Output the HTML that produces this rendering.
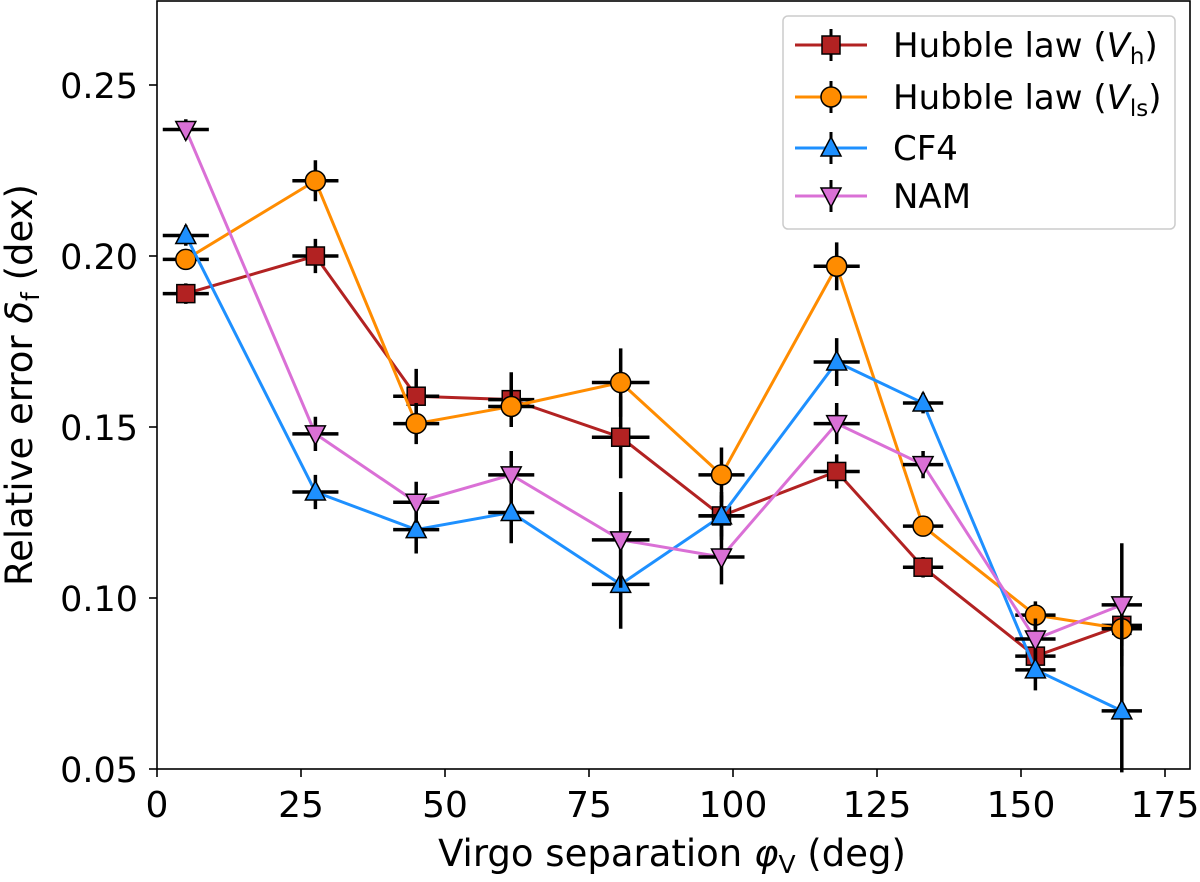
<!DOCTYPE html>
<html><head><meta charset="utf-8"><style>
body{margin:0;background:#fff;}
svg text{font-family:"DejaVu Sans","Liberation Sans",sans-serif;fill:#000;}
</style></head><body>
<svg id="chart" width="1200" height="877" xmlns="http://www.w3.org/2000/svg">
<g id="marks"></g>
<g id="axes"></g>
<g id="legend"></g>
</svg>
<script>
const xVals=[5,27.5,45,61.5,80.5,98,118,133,152.5,167.5];
const xErr=[4,4,4,4,5,4,4,3.5,3.5,3.5];
const hVh=[0.189,0.200,0.159,0.158,0.147,0.124,0.137,0.109,0.083,0.092];
const hVhErr=[0.003,0.005,0.008,0.008,0.012,0.006,0.005,0.003,0.004,0.006];
const hVls=[0.199,0.222,0.151,0.156,0.163,0.136,0.197,0.121,0.095,0.091];
const hVlsErr=[0.003,0.006,0.006,0.006,0.010,0.008,0.007,0.003,0.004,0.008];
const cf4=[0.206,0.131,0.120,0.125,0.104,0.124,0.169,0.157,0.079,0.067];
const cf4Err=[0.003,0.005,0.007,0.009,0.013,0.007,0.007,0.003,0.006,0.018];
const nam=[0.237,0.148,0.128,0.136,0.117,0.112,0.151,0.139,0.088,0.098];
const namErr=[0.003,0.005,0.006,0.007,0.014,0.008,0.006,0.004,0.006,0.018];
const xTicks=[0,25,50,75,100,125,150,175];
const yTicks=[0.05,0.10,0.15,0.20,0.25];
const yTickLabels=["0.05","0.10","0.15","0.20","0.25"];

const L=157,R=1190,T=1,B=769;
const X=v=>L+v*5.76;
const Y=v=>B-(v-0.05)*3420;
const NS="http://www.w3.org/2000/svg";
function mk(tag,attrs,parent){const e=document.createElementNS(NS,tag);for(const k in attrs)e.setAttribute(k,attrs[k]);parent.appendChild(e);return e;}
const marks=document.getElementById('marks'),axes=document.getElementById('axes'),legend=document.getElementById('legend');

function marker(shape,cx,cy,color,parent){
  let e;
  if(shape==='s') e=mk('rect',{x:cx-9,y:cy-9,width:18,height:18,fill:color,stroke:'#000','stroke-width':1.5},parent);
  else if(shape==='o') e=mk('circle',{cx:cx,cy:cy,r:10,fill:color,stroke:'#000','stroke-width':1.5},parent);
  else if(shape==='^') e=mk('polygon',{points:`${cx},${cy-11} ${cx+10},${cy+8} ${cx-10},${cy+8}`,fill:color,stroke:'#000','stroke-width':1.5},parent);
  else e=mk('polygon',{points:`${cx},${cy+11} ${cx+10},${cy-8} ${cx-10},${cy-8}`,fill:color,stroke:'#000','stroke-width':1.5},parent);
  return e;
}
const series=[
 {name:'hubble-vh',vals:hVh,err:hVhErr,color:'#b22222',shape:'s'},
 {name:'hubble-vls',vals:hVls,err:hVlsErr,color:'#ff8c00',shape:'o'},
 {name:'cf4',vals:cf4,err:cf4Err,color:'#1e90ff',shape:'^'},
 {name:'nam',vals:nam,err:namErr,color:'#da70d6',shape:'v'}
];
series.forEach(s=>{
  const g=mk('g',{},marks);
  
  
  const pts=s.vals.map((v,i)=>X(xVals[i])+','+Y(v)).join(' ');
  const line=mk('polyline',{points:pts,fill:'none',stroke:s.color,'stroke-width':3},g);
  
  
  s.vals.forEach((v,i)=>{
    const cx=X(xVals[i]),cy=Y(v);
    const eb=mk('path',{d:`M${X(xVals[i]-xErr[i])},${cy}H${X(xVals[i]+xErr[i])}M${cx},${Y(v-s.err[i])}V${Y(v+s.err[i])}`,stroke:'#000','stroke-width':3.5,fill:'none'},g);
    
    
    const m=marker(s.shape,cx,cy,s.color,g);
    
    
  });
});
const frame=mk('rect',{x:L,y:T,width:R-L,height:B-T,fill:'none',stroke:'#000','stroke-width':1.6},axes);


xTicks.forEach(t=>{
  mk('line',{x1:X(t),x2:X(t),y1:B,y2:B+8,stroke:'#000','stroke-width':1.6},axes);
  const tx=mk('text',{x:X(t),y:817,'text-anchor':'middle','font-size':36},axes);
  tx.textContent=t;
  
  
});
yTicks.forEach((t,i)=>{
  mk('line',{x1:L-8,x2:L,y1:Y(t),y2:Y(t),stroke:'#000','stroke-width':1.6},axes);
  const tx=mk('text',{x:138,y:Y(t)+13,'text-anchor':'end','font-size':35},axes);
  tx.textContent=yTickLabels[i];
  
  
});
const xt=mk('text',{x:672,y:866,'text-anchor':'middle','font-size':37},axes);
xt.innerHTML='Virgo separation <tspan font-style="italic">φ</tspan><tspan font-size="25" dy="7">V</tspan><tspan dy="-7"> (deg)</tspan>';


const yt=mk('text',{x:0,y:0,'text-anchor':'middle','font-size':37,transform:'translate(32,385) rotate(-90)'},axes);
yt.innerHTML='Relative error <tspan font-style="italic">δ</tspan><tspan font-size="25" dy="7">f</tspan><tspan dy="-7"> (dex)</tspan>';


const lb=mk('rect',{x:783,y:16,width:392,height:213,rx:5,fill:'#fff','fill-opacity':0.8,stroke:'#ccc','stroke-width':1.5},legend);


const labels=['Hubble law (<tspan font-style="italic">V</tspan><tspan font-size="23" dy="7">h</tspan><tspan dy="-7">)</tspan>','Hubble law (<tspan font-style="italic">V</tspan><tspan font-size="23" dy="7">ls</tspan><tspan dy="-7">)</tspan>','CF4','NAM'];
const legY=[45,97,148,196];
series.forEach((s,i)=>{
  const y=legY[i];
  const g=mk('g',{},legend);
  
  
  mk('line',{x1:795,x2:867,y1:y,y2:y,stroke:s.color,'stroke-width':3},g);
  mk('line',{x1:831,x2:831,y1:y-16,y2:y+16,stroke:'#000','stroke-width':3},g);
  marker(s.shape,831,y,s.color,g);
  const t=mk('text',{x:893,y:y+12,'font-size':34},g);
  t.innerHTML=labels[i];
});
</script>
</body></html>
